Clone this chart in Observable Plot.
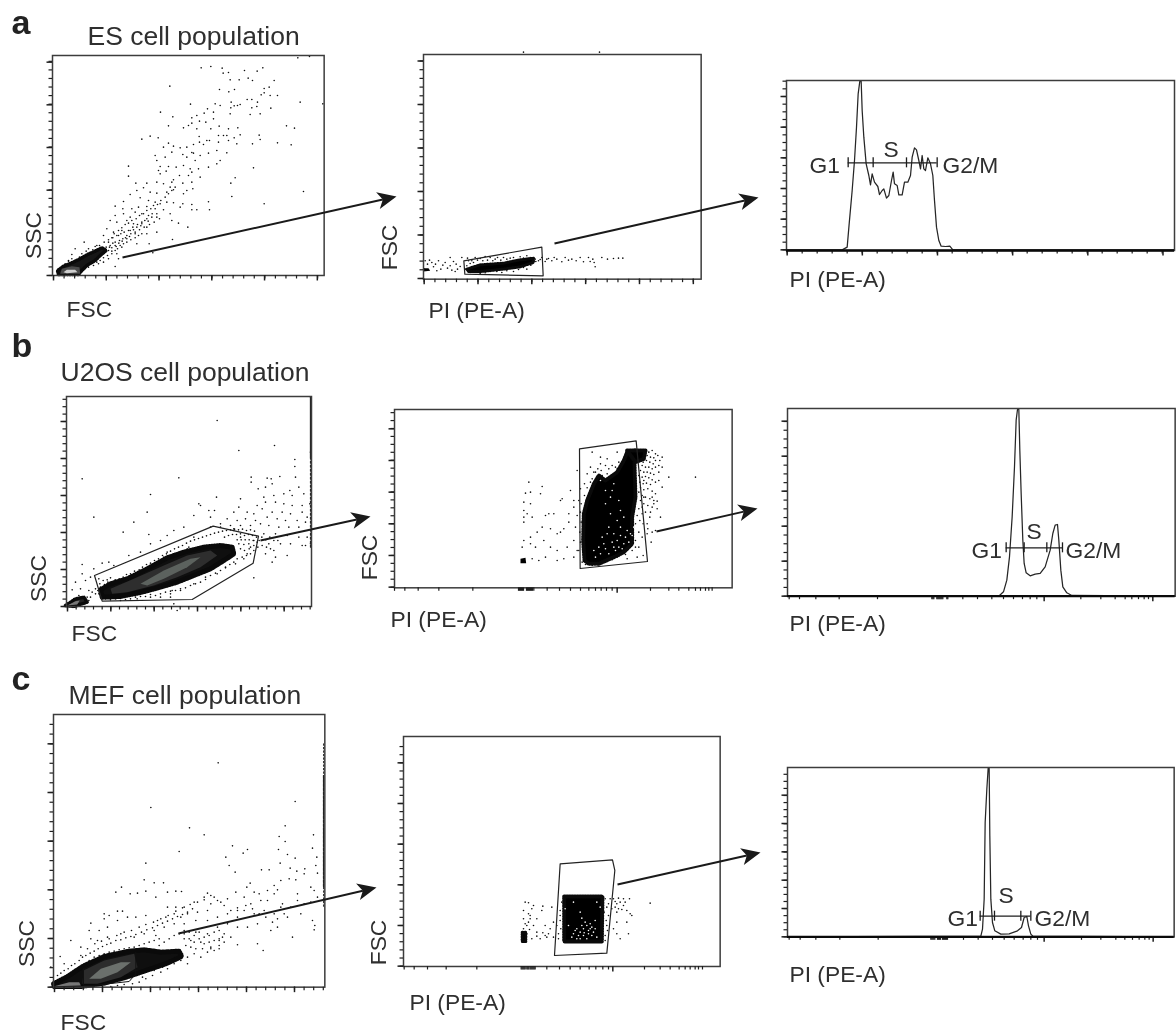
<!DOCTYPE html>
<html><head><meta charset="utf-8">
<script src="https://cdn.jsdelivr.net/npm/d3@7"></script>
<script src="https://cdn.jsdelivr.net/npm/@observablehq/plot@0.6"></script>
<style>html,body{margin:0;padding:0;background:#fff}#fig{position:relative;width:1176px;height:1036px;overflow:hidden;filter:blur(0.3px)}#fig svg{position:absolute;background:transparent}</style>
</head><body><div id="fig"></div>
<script>
const esScatterDots=[893,172,928,168,603,202,632,198,666,203,669,218,685,216,733,210,771,212,788,202,690,238,717,238,744,233,757,240,822,240,509,257,658,267,703,267,686,274,792,264,807,260,783,283,810,285,832,285,792,277,900,305,968,310,571,311,645,310,660,315,693,305,692,322,702,316,712,315,720,312,741,297,755,297,772,305,770,318,755,322,812,323,622,325,612,338,640,335,690,340,750,342,780,340,481,335,518,349,575,352,590,345,575,368,598,362,640,355,617,365,505,376,550,382,565,375,590,385,632,385,657,377,685,385,713,382,859,376,883,383,450,407,425,416,474,412,597,408,655,405,670,405,680,405,702,412,720,403,777,404,780,417,620,420,610,432,628,420,655,425,685,420,710,430,757,430,832,427,873,433,490,440,505,428,520,437,540,442,560,440,580,432,598,425,650,450,575,456,580,458,680,457,465,465,495,470,515,455,548,462,560,470,600,465,625,458,470,480,585,480,650,490,660,480,385,497,480,498,505,498,475,510,498,512,528,500,550,495,570,505,595,505,625,500,760,502,385,527,480,520,520,538,515,545,538,525,565,525,600,530,575,515,705,532,407,548,440,548,470,545,490,550,510,560,548,548,575,545,560,570,578,565,692,548,430,562,410,570,450,575,470,578,500,575,520,568,550,580,910,573,695,588,390,582,370,603,420,592,445,600,465,605,480,610,500,605,520,607,548,610,575,612,625,604,628,628,792,610,345,617,368,625,395,625,415,620,440,618,465,625,490,628,510,640,575,628,590,628,540,620,345,645,370,640,390,650,405,635,425,640,445,645,470,650,515,660,535,668,563,680,330,660,350,665,380,660,400,670,425,670,440,680,470,695,517,717,320,685,340,695,365,690,390,690,405,700,440,700,310,705,335,712,355,705,380,715,410,730,447,730,325,725,345,735,365,740,458,757,290,735,310,745,335,752,350,760,345,798,355,775,252,725,225,745,245,775,295,790,310,785,325,775,262,790,215,762,205,780,245,800];
const esScatterHalo=[178,805,185,798,195,790,205,782,215,775,222,790,230,782,238,770,245,760,252,768,258,752,265,745,272,760,278,748,285,738,292,752,298,735,305,745,312,725,318,740,325,718,330,735,338,712,345,725,350,705,358,720,362,700,368,715,372,695,380,705,385,690,392,700,398,680,405,695,412,672,418,688,425,665,432,680,440,655,448,672,455,650,462,665,470,640,478,655,250,785,262,778,275,775,285,770,298,768,310,772,322,765,335,760,345,750,352,745,360,735,370,730,380,725,392,718,405,712,415,705,425,700,200,800,240,815,255,805,265,800,272,790,280,795,290,785,300,780,315,755,325,750,335,742,342,700,355,690,365,682,375,672,385,668,395,660,408,655,418,645,430,640,440,630,452,625,460,615,472,612,482,600,495,590,505,580,515,570,525,560,302,760,308,752,316,746,328,740,338,728,348,738,356,728,366,722,376,712,388,708,400,688,410,680,422,676,434,660,444,662,456,640];
const esScatterBlob=[175,822,172,810,190,797,215,787,240,775,262,762,285,752,305,742,318,750,300,765,285,780,260,795,245,810,235,822];
const esScatterMid=[180,820,185,805,215,797,238,800,240,820];
const esScatterCore=[190,815,200,808,225,808,232,815,200,818];

const esGateDots=[460,64,688,64,165,690,172,700,178,688,185,695,190,708,196,700,205,690,212,715,218,703,225,695,232,712,240,680,240,705,250,692,258,700,262,715,270,707,275,680,292,682,305,690,315,680,330,683,345,677,360,680,375,685,400,680,420,682,450,678,470,675,300,725,330,728,360,722,395,725,430,722,470,715,495,685,505,690,515,680,525,692,535,683,545,690,552,680,560,685,575,693,585,680,595,688,605,685,618,690,630,680,640,693,655,680,660,692,668,685,672,695,675,708,695,680,712,685,730,683,745,682,758,682,162,715,168,718,200,720,245,718,255,722,295,690,300,698,310,695,322,688,338,690,352,688,368,690,382,680,392,688,410,685,430,680,440,690,460,682,480,680,290,705,285,715,310,722,345,726,380,722,410,720,445,716,460,710,482,703,497,692,510,686,530,685];
const esGateBlob=[290,715,330,702,400,697,450,687,490,682,490,695,450,708,400,715,330,722,295,722];
const esGateLeftBlob=[160,712,175,712,180,720,160,722];
const esGatePolygon=[281,690,515,649,519,735,284,730];
const esHist=[48,568,215,568,230,560,236,490,245,390,252,300,258,200,263,100,268,62,272,62,275,150,280,230,287,310,295,345,300,373,305,340,312,365,322,378,327,402,335,390,340,385,348,413,355,405,363,360,368,335,372,370,380,375,385,403,395,403,402,365,412,365,420,345,425,290,432,262,438,268,445,300,450,325,455,285,460,325,465,330,472,292,480,310,487,345,492,420,498,500,505,540,512,557,525,558,538,557,547,568,1212,568];

const u2osScatterDots=[590,120,762,195,655,210,823,237,823,258,870,215,185,295,475,292,692,290,692,305,740,293,752,295,778,288,825,290,755,310,735,320,713,325,808,330,835,320,390,342,588,350,660,355,730,350,760,345,790,340,815,345,850,340,220,410,380,395,340,425,535,370,540,375,565,390,582,390,520,405,570,410,655,380,680,395,710,375,735,365,765,365,790,370,815,375,845,375,868,370,640,395,700,400,725,385,755,395,785,395,810,400,845,395,860,410,620,415,650,420,675,415,705,420,740,410,770,415,795,420,830,420,855,425,600,430,630,435,660,435,690,435,720,430,745,435,775,440,805,440,835,440,490,440,460,450,385,462,308,455,440,465,420,480,640,450,730,460,765,460,800,465,835,470,860,470,390,490,360,515,325,525,780,490,810,490,845,495,855,495,870,490,760,510,745,490,735,520,765,530,755,545,800,525,700,592,265,545,245,548,280,555,220,565,185,552,185,580,165,605,155,628,195,600,210,590,235,595,180,625,205,630,225,640,160,655,190,650,450,640,420,650,390,650,350,655,480,630,520,610,555,590,590,580,615,560,645,550,670,535,690,500,700,480,660,470,680,520,640,445,600,440,570,440,520,470,505,500,490,530,480,560,470,585,465,610,455,630,450,650,460,670,470,690,480];
const u2osScatterHalo=[240,620,252,612,262,605,272,610,284,598,296,595,308,590,318,582,330,580,342,572,356,568,366,560,378,552,390,548,402,540,414,535,426,525,438,520,450,512,462,505,474,500,486,495,498,488,510,482,522,478,534,474,546,470,558,466,570,462,582,458,594,455,606,452,618,450,630,448,642,446,654,448,666,446,678,450,690,448,702,452,612,470,624,465,636,462,648,462,660,460,672,465,684,462,696,465,708,470,716,480,724,470,736,478,748,470,760,480,772,480,650,478,662,478,674,478,686,478,698,480,710,485,655,490,670,492,685,490,700,495,712,500,725,495,738,500,750,505,660,505,672,510,686,505,700,510,690,520,678,525,665,530,650,535,640,545,628,552,615,562,600,570,585,578,570,585,555,597,540,605,525,610,510,615,495,622,480,625,465,630,450,632,435,635,420,640,405,645,390,642,375,648,360,648,345,650,330,655,315,657,300,660,285,655,270,658,255,655,245,645,235,640,232,630,225,625,238,610,248,600,260,598,270,592,215,635,210,650,205,660,200,650,195,668,190,660,180,650,175,645,500,505,490,520,478,515,465,520,450,525,440,515,430,530,418,545,408,545,395,552,385,562,375,572,362,575,350,580,335,590,322,598];
const u2osEdgeDense=[870,50,870,230];
const u2osEdge=[870,230,870,500];
const u2osScatterBlob=[245,650,240,628,270,610,320,595,380,565,440,532,490,515,550,500,600,495,635,500,640,520,610,540,570,565,520,585,470,605,420,620,360,636,300,648];
const u2osScatterTail=[135,675,165,655,190,650,200,665,160,678];
const u2osScatterMid=[275,640,270,625,340,595,430,555,500,525,570,510,590,525,540,560,470,590,400,615,320,635];
const u2osScatterCore=[360,610,430,570,510,535,540,530,500,560,430,595,380,615];
const u2osScatterTailCore=[140,675,165,662,178,660,170,672];
const u2osScatterGate=[222,585,578,437,714,467,698,548,515,657,245,662];

const u2osGateDots=[1005,230,505,245,495,278,510,275,545,258,540,280,490,305,510,310,500,340,490,330,490,350,490,365,515,350,580,340,565,340,605,295,600,300,630,270,640,300,640,320,625,340,555,345,650,210,695,155,720,170,770,155,790,175,740,175,720,190,690,200,680,220,672,250,660,265,655,300,650,345,645,380,625,365,610,385,600,395,590,400,570,385,545,380,530,395,510,410,490,420,485,440,510,430,525,440,550,420,570,440,590,450,620,440,640,420,650,450,640,470,610,475,590,480,555,470,535,480,515,475,730,480,770,470,800,475,830,470,848,465,872,425,885,390,900,350,890,325,880,310,870,335,860,370,845,320,850,290,875,290,905,260,925,230,895,215,905,200,885,180,905,170,835,160,850,240,860,400,845,410,835,440];
const u2osGateHalo=[835,150,845,155,855,150,865,155,875,150,885,160,840,165,850,170,860,165,870,170,880,172,838,180,848,185,858,180,868,185,878,190,892,165,898,180,845,195,855,200,865,200,875,205,885,200,840,210,850,215,860,215,870,218,880,222,895,195,835,225,845,230,855,228,865,232,875,238,838,245,848,250,858,248,870,252,885,245,895,240,840,262,850,268,862,265,875,272,885,280,845,285,855,290,868,295,880,300,835,275,840,300,850,310,862,315,875,320,890,302,835,325,845,340,855,335,868,350,830,345,838,360,848,370,862,385,875,395,825,370,835,395,825,420,700,215,712,205,722,210,735,195,745,205,755,195,765,200,775,185,785,190,695,235,705,215,690,245,680,262,672,285,662,310,660,335,662,365,658,395,660,425,655,450,665,485,675,492,695,495,715,497,735,485,755,478,775,468,795,462,815,450,825,440,725,225,740,220,755,225,770,205,780,205];
const u2osGateLightDots=[735,270,750,290,760,250,745,380,770,360,760,400,790,350,800,390,770,420,730,430,790,430,760,440,720,460,745,460,705,470,780,380,810,400,820,380,735,310,775,300,750,340,780,330,740,400,725,410,715,440,700,450,735,445,755,425,780,405,795,410,805,425,815,405,765,450,775,440,785,445,720,240,755,270];
const u2osGateBlob=[672,480,668,420,670,340,680,300,700,250,715,225,735,240,770,215,790,180,800,155,825,150,822,190,825,290,815,350,815,430,790,455,760,470,715,490,685,490];
const u2osGateBlobTop=[800,150,855,150,850,175,825,185];
const u2osGateLow=[480,475,495,472,497,488,480,488];
const u2osGatePolygon=[657,145,827,121,861,483,659,504];
const u2osHist=[52,588,688,586,700,575,710,540,718,470,726,350,733,200,738,60,742,28,746,28,749,150,753,280,758,420,762,490,768,518,780,527,795,522,810,520,825,500,840,450,848,400,855,375,862,373,866,420,872,510,878,560,890,578,905,586,1215,588];

const mefScatterDots=[622,187,853,303,420,321,536,382,580,403,823,376,805,408,908,403,823,423,665,436,505,453,710,447,697,458,803,447,905,443,830,462,853,473,405,488,645,470,655,495,808,488,838,503,858,512,882,505,918,470,915,495,920,518,673,515,752,508,775,508,400,538,430,547,458,547,718,548,708,560,835,535,855,538,810,540,790,555,800,568,880,520,900,560,315,575,332,560,358,580,380,578,405,572,435,590,470,575,495,572,512,573,675,575,730,575,745,580,770,570,790,580,860,580,910,570,920,590,280,640,320,632,335,632,295,645,280,655,590,578,580,590,550,605,520,620,495,620,470,620,600,610,610,590,630,605,650,595,680,630,700,590,720,610,750,600,770,600,815,610,860,600,880,610,900,605,240,668,235,690,265,690,240,715,290,680,320,660,350,650,375,650,405,645,440,660,465,650,490,640,510,650,530,640,560,635,590,630,620,650,650,640,680,650,700,630,730,640,760,630,790,640,830,650,870,640,810,620,430,690,460,680,490,670,520,670,555,660,590,660,620,680,650,670,680,680,710,680,740,670,780,690,800,680,845,710,910,688,912,675,905,660,180,720,210,740,260,720,290,710,330,700,370,710,400,700,435,705,520,690,555,695,590,700,625,715,660,710,680,733,740,730,757,750,120,800,148,768,160,790,540,720,570,725,600,745,550,760,570,770,530,790,600,740,625,720,455,800,430,810,395,830];
const mefScatterHalo=[140,825,150,818,160,810,172,805,182,795,192,790,205,780,215,770,225,765,238,758,250,752,262,745,275,738,288,732,300,728,315,720,330,718,345,712,360,708,375,702,392,695,408,688,425,682,440,675,455,668,470,662,485,655,500,648,515,642,530,635,545,625,210,765,230,745,252,730,272,722,295,715,318,705,340,695,362,690,385,680,405,672,428,665,450,655,472,645,495,632,515,622,538,612,560,605,580,598,600,585,620,600,640,615,660,630,680,622,705,615,725,625,745,640,765,650,785,665,800,655,820,640,840,620,520,700,535,695,550,705,565,695,580,710,595,705,610,695,625,690,640,700,520,715,535,715,550,725,565,715,580,730,595,725,610,720,625,735,640,725,635,710,525,735,540,740,555,745,575,745,590,755,610,750,625,745,515,760,530,770,510,780,490,790,470,805,450,815,425,825,405,835,385,845,365,850,340,852,320,855,300,858,275,858,445,735,460,725,475,715,490,705,505,700,445,715,430,720,415,725,400,730,385,735,370,740,355,742,340,745,325,748,310,752,295,755,280,760,265,765,250,770,235,780,220,790,205,800,190,810,175,820,160,830];
const mefEdgeDense=[938,225,938,560];
const mefEdge=[938,130,938,620];
const mefScatterBlob=[130,858,128,850,170,828,215,798,280,768,350,753,400,748,450,755,505,752,512,768,470,788,400,812,340,832,280,848,210,858];
const mefScatterMid=[215,850,218,810,280,780,370,760,380,800,330,830,260,850];
const mefScatterCore=[235,835,270,805,330,785,360,785,320,815,270,835];
const mefScatterTail=[130,857,175,845,205,845,210,855];
const mefGateLine=[218,805,218,855,245,855,355,843,375,820,375,755];

const mefGateDots=[870,533,495,530,505,532,520,540,490,555,515,550,548,542,545,555,575,545,510,570,490,580,505,590,530,580,520,600,490,610,500,625,530,620,555,600,580,590,570,610,560,635,590,600,600,570,605,530,600,555,580,635,540,640,595,640,750,520,760,520,775,518,790,520,808,520,770,535,790,540,755,550,770,560,800,555,810,565,815,570,740,545,745,570,740,600,735,630,770,590,760,610,800,590,805,625,770,625,780,640,735,520,745,535,765,528,780,530,795,530,775,550,785,552,765,545,505,565,510,580,500,600,508,612,495,595,555,630,565,625,548,622,530,632,515,640,600,585,602,610,595,625,732,560,738,585,742,615,735,645,728,590];
const mefGateLowBlob=[486,620,497,620,497,648,486,648];
const mefGateBlob=[612,513,727,513,725,648,612,648];
const mefGateWhiteDots=[660,560,665,578,640,530,670,610,680,600,690,610,700,620,650,610,660,620,640,625,685,625,670,630,695,605,710,530,720,545,615,550,705,585,625,600,680,640,650,640,665,600,675,590,685,615,695,630,655,630,645,615,635,635,690,595,705,610,710,635,660,640,672,622];
const mefGatePolygon=[600,415,757,403,764,435,740,683,583,690];
const mefHist=[50,543,630,541,635,520,640,430,643,200,648,100,652,37,655,37,657,240,660,430,665,500,672,525,690,535,715,534,740,525,752,515,760,485,768,482,773,510,780,535,786,541,1210,543];

// gate bars: bar channel, then its four marker channels
const esBar=[307,233,308,408,500], u2osBar=[443,708,762,830,877], mefBar=[481,628,671,750,780];

// log tick positions
const u2osGateXMinor=[102,133,173,235,337,474,477,480,483,486,489,498,501,504,507,510,513,516,520,560,597,630,660,685,705,722,738,755,870,925,955,985,1005,1020,1035,1045,1055];
const u2osGateXMajor=[770];
const mefGateXMinor=[132,162,202,258,350,483,486,489,492,495,500,503,506,510,513,516,519,522,525,560,598,630,660,687,707,728,745,853,900,930,957,975,990,1005,1015,1027];
const mefGateXMajor=[758];
const u2osHistXMinor=[57,88,137,207,322,485,488,491,500,503,506,509,512,515,518,530,533,578,622,665,700,730,757,780,800,932,992,1035,1065,1085,1105,1122,1135];
const u2osHistXMajor=[822,1148];
const mefHistXMinor=[55,88,135,207,322,480,483,486,489,492,500,503,506,509,515,518,521,524,527,530,578,622,665,700,730,757,780,800,932,990,1035,1062,1085,1105,1122,1135];
const mefHistXMajor=[820,1147];

const tickSeq=(a,b,s)=>{const o=[];for(let v=a;s>0?v<=b:v>=b;v+=s)o.push(+v.toFixed(1));return o;};
const pairs=a=>{const o=[];for(let i=0;i+1<a.length;i+=2)o.push([a[i],a[i+1]]);return o;};
const poly=(a,o)=>Plot.line(pairs(a),{x:d=>d[0],y:d=>d[1],curve:"linear-closed",...o});
const path=(a,o)=>Plot.line(pairs(a),{x:d=>d[0],y:d=>d[1],...o});
const dots=(a,o={})=>Plot.dot(pairs(a),{x:d=>d[0],y:d=>d[1],r:0.8,fill:"#0c0c0c",stroke:null,...o});
// rough outline so a dense population ends in a speckled edge, as in the plots
const fringe=(a,w=3.5)=>poly(a,{fill:"none",stroke:"#0a0a0a",strokeWidth:w,strokeDasharray:"0.9 1.7"});
const INK="#2f2f2f";
const gateStyle={fill:"none",stroke:"#222",strokeWidth:1.2};
const histStyle={stroke:"#262626",strokeWidth:1.25};
const barMarks=b=>[
  Plot.ruleY([b[0]],{x1:b[1],x2:b[4],stroke:"#1c1c1c",strokeWidth:1.3}),
  Plot.ruleX(b.slice(1),{y1:b[0]-15,y2:b[0]+15,stroke:"#1c1c1c",strokeWidth:1.3})
];

const fig=document.getElementById("fig");
function panel(p){
  const [off0,off1]=p.crop,[x0,x1]=p.xr,[y0,y1]=p.yr;
  const m={l:12,r:4,t:4,b:12};
  const w=(x1-x0)/3,h=(y1-y0)/3;
  const axis=(f,ticks,size,sw)=>f({ticks,tickSize:size,tickFormat:()=>"",label:null,stroke:"#1f1f1f",strokeWidth:sw,tickPadding:0,fontSize:1});
  const chart=Plot.plot({
    width:w+m.l+m.r,height:h+m.t+m.b,
    marginLeft:m.l,marginRight:m.r,marginTop:m.t,marginBottom:m.b,
    x:{domain:[x0,x1],axis:null},y:{domain:[y1,y0],axis:null},
    marks:[
      ...p.marks,
      Plot.frame({stroke:"#3c3c3c",strokeWidth:1.5}),
      axis(Plot.axisX,p.xMinor,3.5,1.2),axis(Plot.axisX,p.xMajor,5.5,1.5),
      axis(Plot.axisY,p.yMinor,3.5,1.2),axis(Plot.axisY,p.yMajor,5.5,1.5),
      ...(p.base?[Plot.ruleY([y1],{stroke:"#0a0a0a",strokeWidth:2.4})]:[])
    ]
  });
  chart.style.left=(off0+x0/3-m.l)+"px";
  chart.style.top=(off1+y0/3-m.t)+"px";
  fig.appendChild(chart);
}

panel({crop:[0,0],xr:[157,972],yr:[165,825],
  xMinor:tickSeq(160,972,31.7),xMajor:tickSeq(160,972,158.3),yMinor:tickSeq(825,180,-25.7),yMajor:tickSeq(825,180,-128),
  marks:[dots(esScatterDots),dots(esScatterHalo),poly(esScatterBlob,{fill:"#161616"}),fringe(esScatterBlob),poly(esScatterMid,{fill:"#4a4a4a"}),poly(esScatterCore,{fill:"#cfcfcf"})]});
panel({crop:[370,30],xr:[160,993],yr:[71,745],
  xMinor:tickSeq(162,980,32.3),xMajor:tickSeq(162,980,161.5),yMinor:tickSeq(743,85,-26.1),yMajor:tickSeq(743,85,-130.5),
  marks:[dots(esGateDots),poly(esGateBlob,{fill:"#000"}),fringe(esGateBlob,3),poly(esGateLeftBlob,{fill:"#000"}),poly(esGatePolygon,gateStyle)]});
panel({crop:[770,60],xr:[48,1212],yr:[60,570],base:true,
  xMinor:tickSeq(50,1190,45),xMajor:tickSeq(50,1190,225.5),yMinor:tickSeq(568,62,-23),yMajor:tickSeq(568,62,-92),
  marks:[path(esHist,histStyle),...barMarks(esBar)]});
panel({crop:[20,380],xr:[138,873],yr:[48,678],
  xMinor:tickSeq(141,873,26),xMajor:tickSeq(141,873,130),yMinor:tickSeq(678,50,-22.2),yMajor:tickSeq(678,50,-111),
  marks:[dots(u2osScatterDots),dots(u2osScatterHalo),path(u2osEdgeDense,{stroke:"#222",strokeWidth:1.3}),path(u2osEdge,{stroke:"#222",strokeWidth:1.2,strokeDasharray:"2 2"}),
    poly(u2osScatterBlob,{fill:"#0f0f0f"}),fringe(u2osScatterBlob,5),poly(u2osScatterTail,{fill:"#222"}),fringe(u2osScatterTail),poly(u2osScatterMid,{fill:"#2e2e2e"}),poly(u2osScatterCore,{fill:"#5c625e"}),poly(u2osScatterTailCore,{fill:"#777"}),poly(u2osScatterGate,gateStyle)]});
panel({crop:[360,400],xr:[102,1115],yr:[27,562],
  xMinor:u2osGateXMinor,xMajor:u2osGateXMajor,yMinor:tickSeq(560,30,-23.8),yMajor:tickSeq(560,30,-95),
  marks:[dots(u2osGateDots),dots(u2osGateHalo),poly(u2osGateBlob,{fill:"#000"}),fringe(u2osGateBlob,4),poly(u2osGateBlobTop,{fill:"#000"}),fringe(u2osGateBlobTop,4),poly(u2osGateLow,{fill:"#000"}),dots(u2osGateLightDots,{fill:"#fff"}),poly(u2osGatePolygon,gateStyle)]});
panel({crop:[770,400],xr:[52,1215],yr:[25,588],base:true,
  xMinor:u2osHistXMinor,xMajor:u2osHistXMajor,yMinor:tickSeq(588,40,-26.2),yMajor:tickSeq(588,40,-105),
  marks:[path(u2osHist,histStyle),...barMarks(u2osBar)]});
panel({crop:[10,700],xr:[128,942],yr:[42,860],
  xMinor:tickSeq(131,942,28.8),xMajor:tickSeq(131,942,144),yMinor:tickSeq(860,45,-29.2),yMajor:tickSeq(860,45,-146),
  marks:[dots(mefScatterDots),dots(mefScatterHalo),path(mefEdge,{stroke:"#333",strokeWidth:1,strokeDasharray:"1.5 2"}),path(mefEdgeDense,{stroke:"#222",strokeWidth:1.2,strokeDasharray:"3 1"}),
    poly(mefScatterBlob,{fill:"#0f0f0f"}),fringe(mefScatterBlob,5),poly(mefScatterMid,{fill:"#2c2c2c"}),poly(mefScatterCore,{fill:"#6b706c"}),poly(mefScatterTail,{fill:"#777"}),path(mefGateLine,{stroke:"#111",strokeWidth:1})]});
panel({crop:[360,725],xr:[130,1080],yr:[33,723],
  xMinor:mefGateXMinor,xMajor:mefGateXMajor,yMinor:tickSeq(722,40,-24.4),yMajor:tickSeq(722,40,-122),
  marks:[dots(mefGateDots),poly(mefGateLowBlob,{fill:"#000"}),fringe(mefGateLowBlob,3),poly(mefGateBlob,{fill:"#000"}),fringe(mefGateBlob,4),dots(mefGateWhiteDots,{fill:"#fff"}),poly(mefGatePolygon,gateStyle)]});
panel({crop:[770,755],xr:[50,1210],yr:[35,543],base:true,
  xMinor:mefHistXMinor,xMajor:mefHistXMajor,yMinor:tickSeq(543,40,-21.2),yMajor:tickSeq(543,40,-85),
  marks:[path(mefHist,histStyle),...barMarks(mefBar)]});

// arrows linking the gating steps, tail to tip on the figure
const arrows=[
 {x1:122,y1:257,x2:396,y2:196},{x1:554,y1:243,x2:758,y2:197},
 {x1:260,y1:540,x2:370,y2:516},{x1:656,y1:531,x2:757,y2:508},
 {x1:178,y1:933,x2:376,y2:887},{x1:617,y1:884,x2:760,y2:852}];
const letters=[{t:"a",x:11,y:23},{t:"b",x:11,y:346},{t:"c",x:11,y:679}];
const titles=[{t:"ES cell population",x:87,y:36},{t:"U2OS cell population",x:60,y:372},{t:"MEF cell population",x:68,y:695}];
const hLabels=[
 {t:"FSC",x:66,y:309},{t:"PI (PE-A)",x:428,y:310},{t:"PI (PE-A)",x:789,y:279},
 {t:"FSC",x:71,y:633},{t:"PI (PE-A)",x:390,y:619},{t:"PI (PE-A)",x:789,y:623},
 {t:"FSC",x:60,y:1022},{t:"PI (PE-A)",x:409,y:1002},{t:"PI (PE-A)",x:789,y:974},
 {t:"G1",x:809,y:165},{t:"S",x:883,y:149},{t:"G2/M",x:942,y:165},
 {t:"G1",x:971,y:550},{t:"S",x:1026,y:531},{t:"G2/M",x:1065,y:550},
 {t:"G1",x:947,y:918},{t:"S",x:998,y:895},{t:"G2/M",x:1034,y:918}];
const vLabels=[{t:"SSC",x:33,y:235},{t:"FSC",x:389,y:247},{t:"SSC",x:38,y:578},{t:"FSC",x:369,y:557},{t:"SSC",x:26,y:943},{t:"FSC",x:378,y:942}];

const head=a=>{
  const dx=a.x2-a.x1,dy=a.y2-a.y1,L=Math.hypot(dx,dy),ux=dx/L,uy=dy/L,nx=-uy,ny=ux;
  return [[a.x2,a.y2],[a.x2-19*ux+8.5*nx,a.y2-19*uy+8.5*ny],[a.x2-14*ux,a.y2-14*uy],[a.x2-19*ux-8.5*nx,a.y2-19*uy-8.5*ny]];
};
const FONT="'Liberation Sans',Arial,sans-serif";
const overlay=Plot.plot({
  width:1176,height:1036,margin:0,
  x:{domain:[0,1176],axis:null},y:{domain:[1036,0],axis:null},
  marks:[
    Plot.link(arrows,{x1:"x1",y1:"y1",x2:d=>d.x2-(d.x2-d.x1)/Math.hypot(d.x2-d.x1,d.y2-d.y1)*14,y2:d=>d.y2-(d.y2-d.y1)/Math.hypot(d.x2-d.x1,d.y2-d.y1)*14,stroke:"#1a1a1a",strokeWidth:2}),
    ...arrows.map(a=>Plot.line(head(a),{x:d=>d[0],y:d=>d[1],fill:"#1a1a1a",stroke:"none",curve:"linear-closed"})),
    Plot.text(letters,{x:"x",y:"y",text:"t",textAnchor:"start",fontFamily:FONT,fontSize:34,fontWeight:"bold",fill:"#222"}),
    Plot.text(titles,{x:"x",y:"y",text:"t",textAnchor:"start",fontFamily:FONT,fontSize:26.5,fill:INK}),
    Plot.text(hLabels,{x:"x",y:"y",text:"t",textAnchor:"start",fontFamily:FONT,fontSize:22.8,fill:INK}),
    Plot.text(vLabels,{x:"x",y:"y",text:"t",rotate:-90,fontFamily:FONT,fontSize:22.8,fill:INK})
  ]
});
overlay.style.left="0";overlay.style.top="0";
fig.appendChild(overlay);
</script></body></html>
